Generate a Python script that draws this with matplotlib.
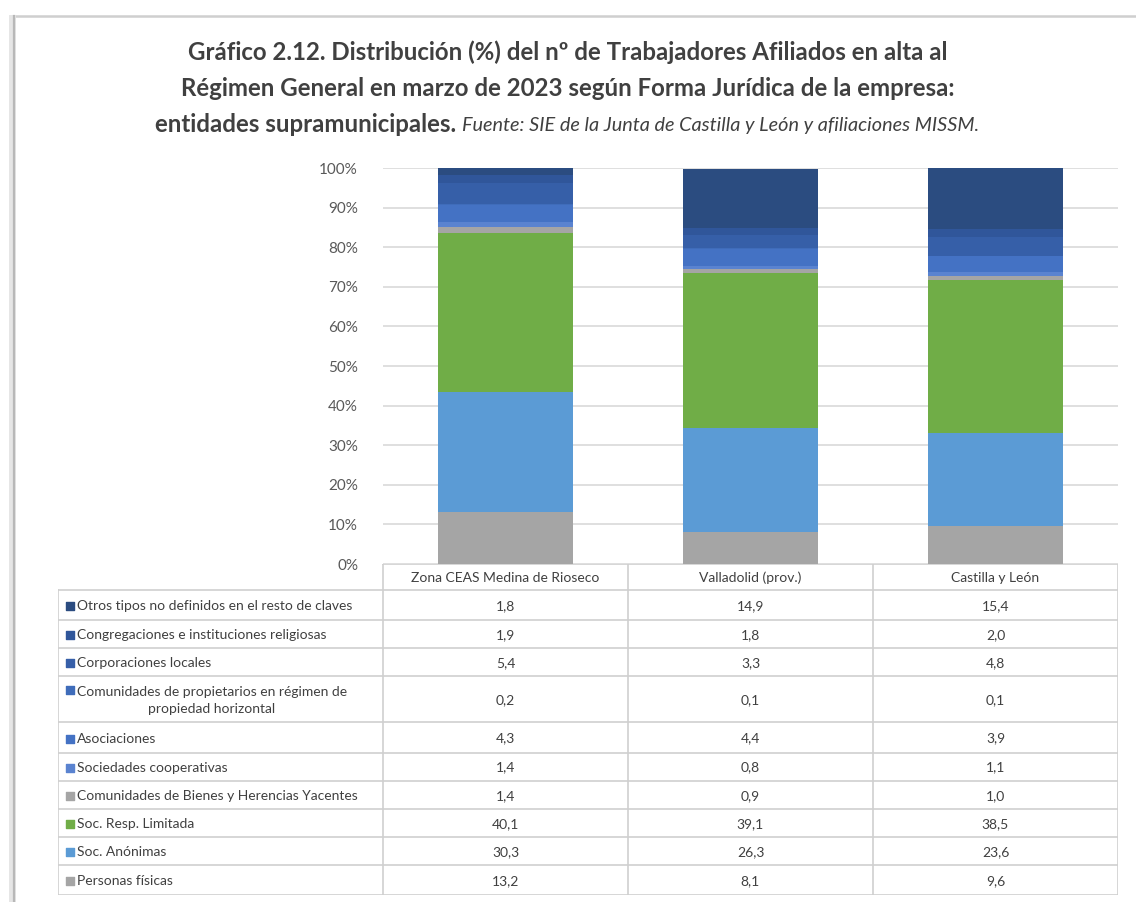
import matplotlib
matplotlib.use("Agg")
import matplotlib.pyplot as plt
from matplotlib.lines import Line2D
import numpy as np

plt.rcParams["font.family"] = ["Lato", "DejaVu Sans"]

# datos (%), de abajo a arriba en la pila
zonas = ["Zona CEAS Medina de Rioseco", "Valladolid (prov.)", "Castilla y León"]
series = [
    "Personas físicas",
    "Soc. Anónimas",
    "Soc. Resp. Limitada",
    "Comunidades de Bienes y Herencias Yacentes",
    "Sociedades cooperativas",
    "Asociaciones",
    "Comunidades de propietarios en régimen de\npropiedad horizontal",
    "Corporaciones locales",
    "Congregaciones e instituciones religiosas",
    "Otros tipos no definidos en el resto de claves",
]
personas = [13.2, 8.1, 9.6]
anonimas = [30.3, 26.3, 23.6]
limitada = [40.1, 39.1, 38.5]
com_bienes = [1.4, 0.9, 1.0]
cooperativas = [1.4, 0.8, 1.1]
asociaciones = [4.3, 4.4, 3.9]
com_propietarios = [0.2, 0.1, 0.1]
corporaciones = [5.4, 3.3, 4.8]
congregaciones = [1.9, 1.8, 2.0]
otros = [1.8, 14.9, 15.4]
valores = [personas, anonimas, limitada, com_bienes, cooperativas,
           asociaciones, com_propietarios, corporaciones, congregaciones, otros]

colores = ["#A5A5A5", "#5B9BD5", "#70AD47", "#A5A5A5", "#5A83D0",
           "#4472C4", "#3F6CBA", "#365FA8", "#30569A", "#2B4C80"]

W, H = 1136, 902


def fr(x0, y0, x1, y1):
    return [x0 / W, 1 - y1 / H, (x1 - x0) / W, (y1 - y0) / H]


fig = plt.figure(figsize=(W / 100, H / 100), dpi=100)

# marco con sombra (solo arriba e izquierda)
fig.add_artist(Line2D([14 / W, 1], [1 - 16 / H] * 2, color="#CFCFCF", lw=1.8))
fig.add_artist(Line2D([12 / W] * 2, [0, 1 - 18 / H], color="#E6E6E6", lw=5))
fig.add_artist(Line2D([14 / W] * 2, [0, 1 - 16 / H], color="#B8B8B8", lw=1.6))

# barras
ax = fig.add_axes(fr(383, 168, 1118, 564))
x = np.arange(len(zonas))
base = np.zeros(len(zonas))
for vals, c in zip(valores, colores):
    ax.bar(x, vals, bottom=base, width=0.555, color=c, zorder=3)
    base += np.array(vals)
ax.set_xlim(-0.5, 2.5)
ax.set_ylim(0, 100)
ax.set_yticks(range(0, 101, 10))
ax.set_yticklabels([f"{v}%" for v in range(0, 101, 10)], fontsize=11, color="#595959")
ax.set_xticks([])
ax.tick_params(axis="y", length=0, pad=18)
ax.grid(axis="y", color="#D9D9D9", lw=1.2, zorder=0)
for s in ax.spines.values():
    s.set_visible(False)

# tabla de datos
tax = fig.add_axes(fr(58, 564, 1118, 895))
x_left = -0.5 - 325 / 245
tax.set_xlim(x_left, 2.5)
alturas = [26, 30, 28, 28, 46, 30, 28, 28, 28, 28, 30]
bordes = np.concatenate([[0], np.cumsum(alturas)])
tax.set_ylim(bordes[-1], 0)
tax.axis("off")
lc = "#CFCFCF"
fs = 10

# cabecera
tax.plot([-0.5, 2.5], [0, 0], color=lc, lw=1.2)
for i, z in enumerate(zonas):
    tax.text(i, alturas[0] / 2 + 1, z, ha="center", va="center", fontsize=fs, color="#404040")
for xv in [-0.5, 0.5, 1.5, 2.5]:
    tax.plot([xv, xv], [0, bordes[-1]], color=lc, lw=1.2)
tax.plot([x_left, x_left], [bordes[1], bordes[-1]], color=lc, lw=1.2)
for b in bordes[1:]:
    tax.plot([x_left, 2.5], [b, b], color=lc, lw=1.2)

# filas (de arriba a abajo)
for r, k in enumerate(range(len(series) - 1, -1, -1)):
    y0, y1 = bordes[r + 1], bordes[r + 2]
    yc = (y0 + y1) / 2 + 1
    nombre = series[k]
    if "\n" in nombre:
        ym = y0 + 14
        tax.text(x_left + 19 / 245, yc, nombre, ha="left", va="center", fontsize=fs,
                 color="#404040", multialignment="center", linespacing=1.45)
    else:
        ym = yc
        tax.text(x_left + 19 / 245, yc, nombre, ha="left", va="center", fontsize=fs,
                 color="#404040")
    tax.scatter([x_left + 12 / 245], [ym], marker="s", s=30, color=colores[k])
    for i in range(len(zonas)):
        tax.text(i, yc, f"{valores[k][i]:.1f}".replace(".", ","), ha="center", va="center",
                 fontsize=fs, color="#404040")

# título
tc = "#404040"
tfs = 17.3
fig.text(568 / W, 1 - 52 / H,
         "Gráfico 2.12. Distribución (%) del nº de Trabajadores Afiliados en alta al",
         ha="center", va="center", fontsize=tfs, fontweight="bold", color=tc)
fig.text(568 / W, 1 - 88 / H,
         "Régimen General en marzo de 2023 según Forma Jurídica de la empresa:",
         ha="center", va="center", fontsize=tfs, fontweight="bold", color=tc)
t1 = fig.text(0, 1 - 124 / H, "entidades supramunicipales. ", ha="left", va="center",
              fontsize=tfs, fontweight="bold", color=tc)
t2 = fig.text(0, 1 - 125 / H, "Fuente: SIE de la Junta de Castilla y León y afiliaciones MISSM.",
              ha="left", va="center", fontsize=14.3, fontstyle="italic", color=tc)
rend = fig.canvas.get_renderer()
w1 = t1.get_window_extent(rend).width
w2 = t2.get_window_extent(rend).width
x0 = 567 - (w1 + w2) / 2
t1.set_x(x0 / W)
t2.set_x((x0 + w1) / W)

fig.savefig("out.png", dpi=100)
